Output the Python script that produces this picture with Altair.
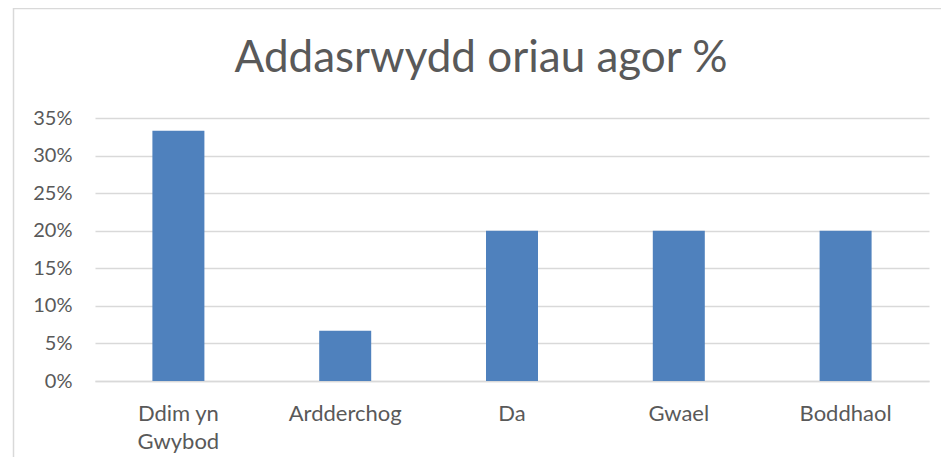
import altair as alt
import pandas as pd

categories = ["Ddim yn Gwybod", "Ardderchog", "Da", "Gwael", "Boddhaol"]
values = [0.333, 0.067, 0.20, 0.20, 0.20]
title_text = "Addasrwydd oriau agor %"

df = pd.DataFrame({"cat": categories, "val": values})

FONT = "Lato"
GRAY = "#595959"
GRID = "#d9d9d9"

bars = alt.Chart(df).mark_bar(color="#4f81bd", size=52).encode(
    x=alt.X("cat:N", sort=categories, title=None,
            scale=alt.Scale(paddingInner=0, paddingOuter=0),
            axis=alt.Axis(labelAngle=0, ticks=False, tickSize=0, domainColor=GRID, domainWidth=1.3,
                          labelPadding=39, labelFontSize=22, labelColor=GRAY, labelFont=FONT,
                          labelLineHeight=28, labelBaseline="alphabetic",
                          labelExpr="datum.value == 'Ddim yn Gwybod' ? ['Ddim yn', 'Gwybod'] : datum.value")),
    y=alt.Y("val:Q", title=None,
            scale=alt.Scale(domain=[0, 0.35], nice=False),
            axis=alt.Axis(format=".0%", values=[0, 0.05, 0.1, 0.15, 0.2, 0.25, 0.3, 0.35],
                          domain=False, ticks=False, tickSize=0, gridColor=GRID, gridWidth=1.3,
                          labelPadding=23, labelFontSize=20, labelColor=GRAY, labelFont=FONT)),
)

title = alt.Chart(pd.DataFrame({"t": [title_text]})).mark_text(
    font=FONT, fontSize=44, color=GRAY, baseline="alphabetic", align="center"
).encode(x=alt.value(386), y=alt.value(-46), text="t:N")

border = alt.Chart(pd.DataFrame({"a": [0]})).mark_rect(
    fill=None, stroke=GRID, strokeWidth=1.5
).encode(x=alt.value(-81.5), x2=alt.value(900), y=alt.value(-109.5), y2=alt.value(400))

chart = alt.layer(border, bars, title).properties(
    width=834, height=263,
    padding={"left": 87, "top": 110, "right": 12, "bottom": 76},
    autosize=alt.AutoSizeParams(type="none"),
).configure_view(stroke=None)

chart.save("out.html", embed_options={"renderer": "svg", "actions": False})
